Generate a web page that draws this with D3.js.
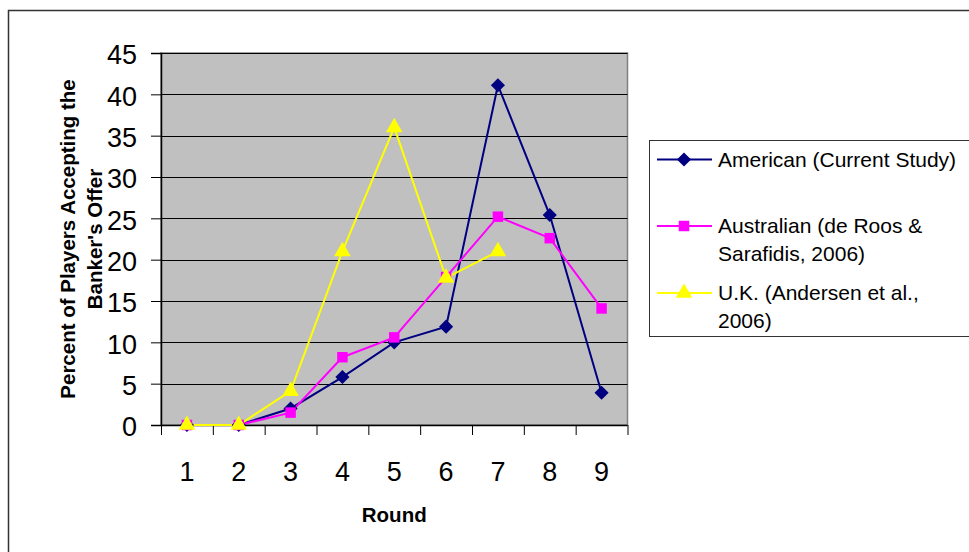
<!DOCTYPE html>
<html>
<head>
<meta charset="utf-8">
<script src="https://cdn.jsdelivr.net/npm/d3@7"></script>
<style>
  html, body { margin: 0; padding: 0; background: #fff; }
  svg { display: block; font-family: Arial, "Liberation Sans", sans-serif; }
</style>
</head>
<body>
<svg id="chart" width="969" height="552"></svg>
<script>
const rounds = ["1", "2", "3", "4", "5", "6", "7", "8", "9"];
const yTicks = [0, 5, 10, 15, 20, 25, 30, 35, 40, 45];
const american = [0, 0, 2, 5.8, 10, 11.9, 41.1, 25.4, 3.9];
const australian = [0, 0, 1.5, 8.2, 10.6, 17.9, 25.2, 22.6, 14.1];
const uk = [0, 0, 4.1, 21, 36, 17.8, 21, null, null];
const seriesNames = [
  ["American (Current Study)"],
  ["Australian (de Roos &", "Sarafidis, 2006)"],
  ["U.K. (Andersen et al.,", "2006)"]
];
const yTitle = ["Percent of Players Accepting the", "Banker's Offer"];
const xTitle = "Round";

const svg = d3.select("#chart");
const L = 161, R = 627.5, T = 53, B = 425;

// outer frame
svg.append("rect").attr("x", 8.5).attr("y", 10.5).attr("width", 980).attr("height", 560)
  .attr("fill", "#fff").attr("stroke", "#333").attr("stroke-width", 1.5);

const x = d3.scaleBand().domain(rounds).range([L, R]).padding(0);
const xTick = d3.scaleLinear().domain([0, rounds.length]).range([L, R]);
const y = d3.scaleLinear().domain([0, 45]).range([B, T]);

// plot area
svg.append("rect").attr("x", L).attr("y", T).attr("width", R - L).attr("height", B - T)
  .attr("fill", "#C0C0C0").attr("stroke", "#808080").attr("stroke-width", 1.5);

// gridlines
svg.append("g").selectAll("line").data(yTicks.slice(1)).join("line")
  .attr("x1", L).attr("x2", R)
  .attr("y1", d => Math.round(y(d)) + 0.5).attr("y2", d => Math.round(y(d)) + 0.5)
  .attr("stroke", "#000").attr("stroke-width", 1);

// y axis
const yAxis = svg.append("g").attr("transform", `translate(${L},0)`)
  .call(d3.axisLeft(y).tickValues(yTicks).tickSize(10).tickPadding(14));
yAxis.select(".domain").attr("stroke", "#000").attr("stroke-width", 1.5);
yAxis.selectAll(".tick line").attr("stroke", "#000");
yAxis.selectAll(".tick text").attr("font-size", 27).attr("fill", "#000")
  .attr("font-family", "Arial, 'Liberation Sans', sans-serif").attr("dy", "0.4em");

// x axis ticks between categories
const xAxisT = svg.append("g").attr("transform", `translate(0,${B})`)
  .call(d3.axisBottom(xTick).tickValues(d3.range(0, rounds.length + 1)).tickSize(10).tickFormat(""));
xAxisT.select(".domain").attr("stroke", "#000").attr("stroke-width", 1.5).attr("d", `M${L},0.5H${R}`);
xAxisT.selectAll(".tick line").attr("stroke", "#000");

// x labels
const xAxisL = svg.append("g").attr("transform", `translate(0,${B})`)
  .call(d3.axisBottom(x).tickSize(0).tickPadding(0));
xAxisL.select(".domain").remove();
xAxisL.selectAll(".tick text").attr("font-size", 27).attr("fill", "#000")
  .attr("font-family", "Arial, 'Liberation Sans', sans-serif").attr("dy", null).attr("y", 56);

// titles
svg.append("text").attr("x", (L + R) / 2).attr("y", 522).attr("text-anchor", "middle")
  .attr("font-size", 20.5).attr("font-weight", "bold").text(xTitle);
const yt = svg.append("text").attr("transform", `translate(0,${(T + B) / 2}) rotate(-90)`)
  .attr("text-anchor", "middle").attr("font-size", 20.5).attr("font-weight", "bold");
yt.selectAll("tspan").data(yTitle).join("tspan")
  .attr("x", 0).attr("y", (d, i) => 75 + i * 27).text(d => d);

// series
const series = [
  { values: american, color: "#000080", marker: d3.symbolSquare, size: 100, rot: 45 },
  { values: australian, color: "#FF00FF", marker: d3.symbolSquare, size: 110, rot: 0 },
  { values: uk, color: "#FFFF00", marker: d3.symbolTriangle, size: 120, rot: 0 }
];
const line = d3.line()
  .defined(d => d.v !== null)
  .x(d => x(d.r) + x.bandwidth() / 2)
  .y(d => y(d.v));

series.forEach(s => {
  const pts = rounds.map((r, i) => ({ r, v: s.values[i] }));
  svg.append("path").datum(pts).attr("d", line).attr("fill", "none")
    .attr("stroke", s.color).attr("stroke-width", 2);
});
series.forEach(s => {
  const pts = rounds.map((r, i) => ({ r, v: s.values[i] })).filter(d => d.v !== null);
  svg.append("g").selectAll("path").data(pts).join("path")
    .attr("transform", d => `translate(${x(d.r) + x.bandwidth() / 2},${y(d.v)}) rotate(${s.rot})`)
    .attr("d", d3.symbol().type(s.marker).size(s.size))
    .attr("fill", s.color);
});

// legend
const lg = svg.append("g");
lg.append("rect").attr("x", 649.5).attr("y", 140.5).attr("width", 340).attr("height", 196)
  .attr("fill", "#fff").attr("stroke", "#333").attr("stroke-width", 1);
const legY = [159.5, 226, 293];
series.forEach((s, i) => {
  lg.append("line").attr("x1", 657).attr("x2", 712).attr("y1", legY[i]).attr("y2", legY[i])
    .attr("stroke", s.color).attr("stroke-width", 2);
  lg.append("path").attr("transform", `translate(684,${legY[i]}) rotate(${s.rot})`)
    .attr("d", d3.symbol().type(s.marker).size(s.size)).attr("fill", s.color);
  const t = lg.append("text").attr("font-size", 21).attr("fill", "#000");
  t.selectAll("tspan").data(seriesNames[i]).join("tspan")
    .attr("x", 718).attr("y", (d, j) => legY[i] + 7 + j * 28).text(d => d);
});
</script>
</body>
</html>
